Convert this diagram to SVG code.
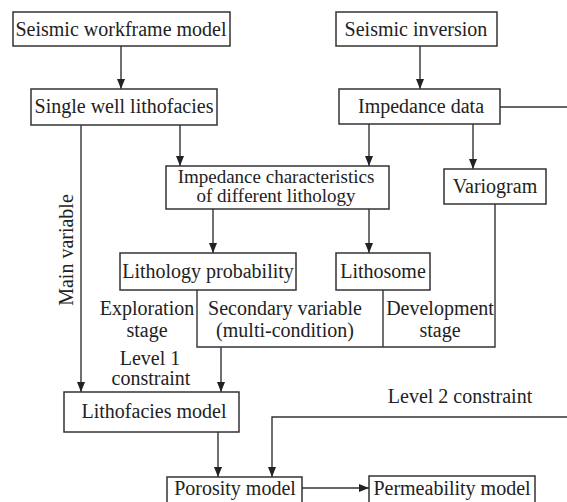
<svg xmlns="http://www.w3.org/2000/svg" width="567" height="502" viewBox="0 0 567 502">
<style>
.b{fill:#fff;stroke:#333;stroke-width:1.5}
.t{font-family:"Liberation Serif","Times New Roman",serif;font-size:20px;fill:#222;text-anchor:middle}
.s{font-size:19px}
.c{fill:none;stroke:#333;stroke-width:1.4}
</style>
<defs>
<marker id="a" viewBox="0 0 10 8" refX="10" refY="4" markerWidth="10" markerHeight="8" markerUnits="userSpaceOnUse" orient="auto">
<path d="M0,0 L10,4 L0,8 Z" fill="#222"/>
</marker>
</defs>
<rect width="567" height="502" fill="#fff"/>
<g id="connectors">
<path class="c" d="M121,46 V89" marker-end="url(#a)"/>
<path class="c" d="M420,46 V89" marker-end="url(#a)"/>
<path class="c" d="M500,107 H567"/>
<path class="c" d="M180,125 V166" marker-end="url(#a)"/>
<path class="c" d="M369,124 V166" marker-end="url(#a)"/>
<path class="c" d="M473,124 V169" marker-end="url(#a)"/>
<path class="c" d="M213,209 V253" marker-end="url(#a)"/>
<path class="c" d="M369,209 V253" marker-end="url(#a)"/>
<path class="c" d="M81,125 V392" marker-end="url(#a)"/>
<path class="c" d="M197,290 V347 H495 V204"/>
<path class="c" d="M383,290 V347"/>
<path class="c" d="M221,347 V392" marker-end="url(#a)"/>
<path class="c" d="M218,432 V477" marker-end="url(#a)"/>
<path class="c" d="M567,417 H272 V477" marker-end="url(#a)"/>
<path class="c" d="M302,488 H369" marker-end="url(#a)"/>
</g>
<g id="seismic-workframe"><rect class="b" x="13" y="12" width="217" height="34"/><text class="t" x="121" y="36">Seismic workframe model</text></g>
<g id="seismic-inversion"><rect class="b" x="336" y="12" width="161" height="34"/><text class="t" x="416" y="36">Seismic inversion</text></g>
<g id="single-well"><rect class="b" x="31" y="89" width="186" height="36"/><text class="t" x="124" y="113">Single well lithofacies</text></g>
<g id="impedance-data"><rect class="b" x="339" y="89" width="161" height="35"/><text class="t" x="421" y="113">Impedance data</text></g>
<g id="impedance-char"><rect class="b" x="166" y="166" width="223" height="43"/><text class="t s" x="276" y="183">Impedance characteristics</text><text class="t s" x="276" y="202">of different lithology</text></g>
<g id="variogram"><rect class="b" x="444" y="169" width="102" height="35"/><text class="t" x="495" y="193">Variogram</text></g>
<g id="lithology-probability"><rect class="b" x="120" y="253" width="176" height="37"/><text class="t" x="208" y="278">Lithology probability</text></g>
<g id="lithosome"><rect class="b" x="336" y="253" width="94" height="37"/><text class="t" x="383" y="278">Lithosome</text></g>
<g id="lithofacies-model"><rect class="b" x="64" y="392" width="175" height="40"/><text class="t" x="154" y="418">Lithofacies model</text></g>
<g id="porosity-model"><rect class="b" x="167" y="477" width="135" height="32"/><text class="t" x="235" y="495">Porosity model</text></g>
<g id="permeability-model"><rect class="b" x="369" y="476" width="166" height="33"/><text class="t" x="452" y="495">Permeability model</text></g>
<g id="labels">
<text class="t" transform="translate(73,250) rotate(-90)">Main variable</text>
<text class="t" x="147" y="315">Exploration</text>
<text class="t" x="147" y="337">stage</text>
<text class="t" x="285" y="315">Secondary variable</text>
<text class="t" x="285" y="337">(multi-condition)</text>
<text class="t" x="440" y="315">Development</text>
<text class="t" x="440" y="337">stage</text>
<text class="t" x="150" y="365">Level 1</text>
<text class="t" x="151" y="385">constraint</text>
<text class="t" x="460" y="403">Level 2 constraint</text>
</g>
</svg>
